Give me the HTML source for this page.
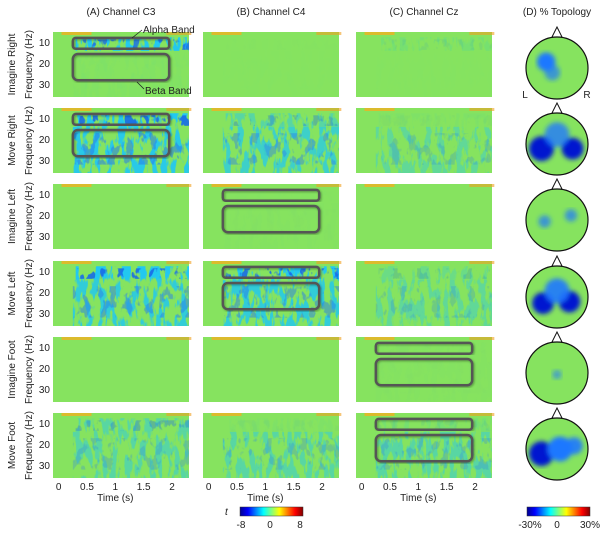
<!DOCTYPE html>
<html><head><meta charset="utf-8"><style>
body{margin:0;background:#fff;}
svg{display:block;font-family:"Liberation Sans",sans-serif;}
</style></head><body>
<svg id="fig" width="604" height="534" viewBox="0 0 604 534">
<defs>
<filter id="speck" x="0" y="0" width="100%" height="100%">
<feTurbulence type="fractalNoise" baseFrequency="0.16 0.05" numOctaves="3" seed="3" result="n"/>
<feColorMatrix in="n" type="matrix" values="0 0 0 0 0  0 0 0 0 0  0 0 0 0 0  0 0 0 10 -4.8" result="m"/>
<feComposite in="SourceGraphic" in2="m" operator="in"/>
</filter>
<filter id="speck2" x="0" y="0" width="100%" height="100%">
<feTurbulence type="fractalNoise" baseFrequency="0.12 0.07" numOctaves="3" seed="11" result="n"/>
<feColorMatrix in="n" type="matrix" values="0 0 0 0 0  0 0 0 0 0  0 0 0 0 0  0 0 0 12 -6.6" result="m"/>
<feComposite in="SourceGraphic" in2="m" operator="in"/>
</filter>
<filter id="blur2"><feGaussianBlur stdDeviation="2.5"/></filter>
<filter id="shadow"><feDropShadow dx="1" dy="1" stdDeviation="1" flood-color="#000" flood-opacity="0.35"/></filter>
<linearGradient id="jet" x1="0" x2="1" y1="0" y2="0">
<stop offset="0" stop-color="#00008f"/><stop offset="0.125" stop-color="#0000ff"/><stop offset="0.375" stop-color="#00ffff"/><stop offset="0.5" stop-color="#80ff80"/><stop offset="0.625" stop-color="#ffff00"/><stop offset="0.875" stop-color="#ff0000"/><stop offset="1" stop-color="#800000"/>
</linearGradient>
<clipPath id="headclip"><ellipse cx="0" cy="0" rx="31" ry="31"/></clipPath>
</defs>
<g id="root"></g>
</svg>
<script>
const conditions=["Imagine Right","Move Right","Imagine Left","Move Left","Imagine Foot","Move Foot"];
const channels=["(A) Channel C3","(B) Channel C4","(C) Channel Cz"];
const timeTicks=[0,0.5,1,1.5,2];
const freqTicks=[10,20,30];
// alpha-band desynchronization strength per condition x channel (0..1)
const alphaStrength=[[0.9,0.05,0.3],[0.95,0.6,0.2],[0.0,0.05,0.0],[0.95,0.95,0.45],[0.0,0.0,0.1],[0.6,0.2,0.3]];
// beta-band strength
const betaStrength=[[0.15,0.05,0.05],[0.85,0.75,0.55],[0.0,0.1,0.0],[0.8,0.8,0.55],[0.0,0.0,0.1],[0.6,0.6,0.6]];
// which panels have highlighted band boxes
const boxPanels=[[0,0],[1,0],[2,1],[3,1],[4,2],[5,2]];
// topography blobs per condition: [x, y, radius, strength] in head units (-1..1)
const topoBlobs=[
 [[-0.35,-0.2,0.3,0.8],[-0.15,0.15,0.25,0.5]],
 [[-0.5,0.15,0.4,1],[0.5,0.15,0.35,0.95],[0,-0.3,0.4,0.6]],
 [[-0.4,0.05,0.2,0.5],[0.45,-0.15,0.2,0.5]],
 [[-0.45,0.2,0.35,1],[0.4,0.15,0.35,0.95],[0,-0.2,0.4,0.7]],
 [[0,0.05,0.15,0.4]],
 [[-0.5,0.15,0.4,1],[0.1,0.0,0.4,0.8],[0.55,-0.1,0.28,0.7]]
];
const NS="http://www.w3.org/2000/svg";
const root=document.getElementById('root');
function mk(tag,attrs,parent){const e=document.createElementNS(NS,tag);for(const k in attrs)e.setAttribute(k,attrs[k]);(parent||root).appendChild(e);return e;}
const colX=[53,203,356];const panelW=136;const rowY=[32,108,184,261,337,413];const panelH=65;
const tMin=-0.1,tMax=2.3,fMin=5,fMax=36;
function xS(c,t){return colX[c]+(t-tMin)/(tMax-tMin)*panelW;}
function yS(r,f){return rowY[r]+(f-fMin)/(fMax-fMin)*panelH;}
channels.forEach((c,i)=>{const t=mk('text',{x:colX[i]+panelW/2,y:15,'font-size':10,'text-anchor':'middle',fill:'#222'});t.textContent=c;
});
const dt=mk('text',{x:557,y:15,'font-size':10,'text-anchor':'middle',fill:'#222'});dt.textContent="(D)  % Topology";

conditions.forEach((cond,r)=>{
 const cy=rowY[r]+panelH/2;
 const lab=mk('text',{x:0,y:0,'font-size':10,'text-anchor':'middle',fill:'#222',transform:`translate(15,${cy}) rotate(-90)`});lab.textContent=cond;
 
 const fl=mk('text',{x:0,y:0,'font-size':10,'text-anchor':'middle',fill:'#222',transform:`translate(32,${cy}) rotate(-90)`});fl.textContent="Frequency (Hz)";
 
 freqTicks.forEach(f=>{const t=mk('text',{x:50,y:yS(r,f)+3.5,'font-size':10,'text-anchor':'end',fill:'#222'});t.textContent=f;
  });
 channels.forEach((ch,c)=>{
  const g=mk('g',{});
  mk('rect',{x:colX[c],y:rowY[r],width:panelW,height:panelH,fill:'#86e35f'},g);
  mk('rect',{x:xS(c,0.05),y:rowY[r],width:30,height:3,fill:'#f0b020',opacity:0.8},g);
  mk('rect',{x:xS(c,1.9),y:rowY[r],width:25,height:3,fill:'#f0a020',opacity:0.6},g);
  const a=alphaStrength[r][c],b=betaStrength[r][c];
  const sg=mk('g',{filter:'url(#speck)'},g);
  const sg2=mk('g',{filter:'url(#speck2)'},g);
  if(a>0){
   const ar=mk('rect',{x:xS(c,0.3),y:yS(r,7.5),width:xS(c,2.3)-xS(c,0.3),height:yS(r,14)-yS(r,7.5),fill:'#22c8f0',opacity:Math.min(1,a*a*1.3)},sg);
   mk('rect',{x:xS(c,0.3),y:yS(r,8.5),width:xS(c,2.3)-xS(c,0.3),height:yS(r,13.5)-yS(r,8.5),fill:'#1a6ce8',opacity:Math.min(1,a*a)},sg2);
  }
  if(b>0){
   const br=mk('rect',{x:xS(c,0.25),y:yS(r,14),width:xS(c,2.3)-xS(c,0.25),height:yS(r,36)-yS(r,14),fill:'#22c8f0',opacity:Math.min(1,b*b*1.3)},sg);
   mk('rect',{x:xS(c,0.25),y:yS(r,17),width:xS(c,2.3)-xS(c,0.25),height:yS(r,32)-yS(r,17),fill:'#2a80e8',opacity:Math.min(1,b*b*0.8)},sg2);
  }
 });
 const hx=557,hy=rowY[r]+36;
 const hg=mk('g',{transform:`translate(${hx},${hy})`});
 mk('polygon',{points:'-5,-31 0,-41 5,-31',fill:'#fff',stroke:'#111','stroke-width':1},hg);
 mk('ellipse',{cx:0,cy:0,rx:31,ry:31,fill:'#86e35f'},hg);
 const bg=mk('g',{'clip-path':'url(#headclip)'},hg);const bb=mk('g',{filter:'url(#blur2)'},bg);
 topoBlobs[r].forEach(bl=>{const e=mk('circle',{cx:bl[0]*31,cy:bl[1]*31,r:bl[2]*31,fill:bl[3]>0.85?'#0018d0':'#1e78ff',opacity:Math.min(1,bl[3]+0.2)},bb);
  });
 mk('ellipse',{cx:0,cy:0,rx:31,ry:31,fill:'none',stroke:'#111','stroke-width':1.2},hg);
});
[['L',525],['R',587]].forEach(([s,x])=>{const t=mk('text',{x:x,y:98,'font-size':10,'text-anchor':'middle',fill:'#222'});t.textContent=s;});
boxPanels.forEach(([r,c])=>{
 const b1=mk('rect',{x:xS(c,0.25),y:yS(r,7.8),width:xS(c,1.95)-xS(c,0.25),height:yS(r,13)-yS(r,7.8),rx:3,fill:'none',stroke:'#555','stroke-width':2.5,filter:'url(#shadow)'});
 
 const b2=mk('rect',{x:xS(c,0.25),y:yS(r,15.5),width:xS(c,1.95)-xS(c,0.25),height:yS(r,28)-yS(r,15.5),rx:5,fill:'none',stroke:'#555','stroke-width':2.5,filter:'url(#shadow)'});
 
});
const an1=mk('text',{x:143,y:33,'font-size':10,fill:'#222'});an1.textContent="Alpha Band";
mk('line',{x1:142,y1:30,x2:132,y2:38,stroke:'#222','stroke-width':0.8});
const an2=mk('text',{x:145,y:94,'font-size':10,fill:'#222'});an2.textContent="Beta Band";
mk('line',{x1:144,y1:89,x2:137,y2:82,stroke:'#222','stroke-width':0.8});
channels.forEach((ch,c)=>{
 timeTicks.forEach(t=>{const e=mk('text',{x:xS(c,t),y:490,'font-size':10,'text-anchor':'middle',fill:'#222'});e.textContent=t;
  });
 const tt=mk('text',{x:xS(c,1),y:501,'font-size':10,'text-anchor':'middle',fill:'#222'});tt.textContent="Time (s)";
 
});
const cb1=mk('rect',{x:240,y:507,width:63,height:9,fill:'url(#jet)',stroke:'#333','stroke-width':0.5});
const tl=mk('text',{x:225,y:515,'font-size':10,'font-style':'italic',fill:'#222'});tl.textContent="t";
[['-8',241],['0',270],['8',300]].forEach(([s,x])=>{const t=mk('text',{x:x,y:528,'font-size':10,'text-anchor':'middle',fill:'#222'});t.textContent=s;});
const cb2=mk('rect',{x:527,y:507,width:63,height:9,fill:'url(#jet)',stroke:'#333','stroke-width':0.5});
[['-30%',530],['0',557],['30%',590]].forEach(([s,x])=>{const t=mk('text',{x:x,y:528,'font-size':10,'text-anchor':'middle',fill:'#222'});t.textContent=s;});
</script>
</body></html>
